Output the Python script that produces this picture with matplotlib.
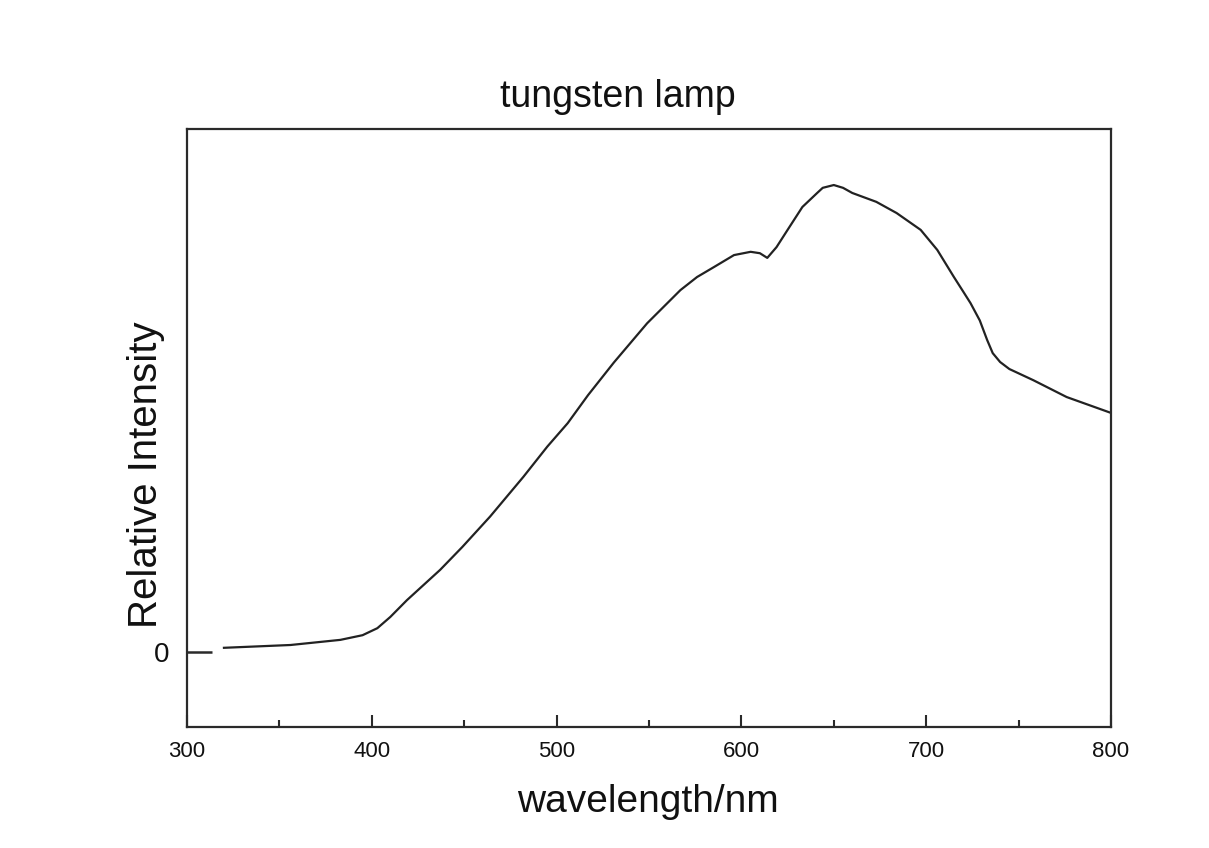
"""Tungsten lamp emission spectrum, relative intensity vs wavelength."""
import matplotlib
matplotlib.use("Agg")
import matplotlib.pyplot as plt

# values (intensity normalised to peak = 1)
wavelength = [320, 356, 383, 395, 403, 410, 419, 437, 449, 464, 482, 495,
              506, 517, 531, 549, 567, 576, 585, 596, 605, 610, 614, 619,
              625, 633, 641, 644, 650, 655, 660, 673, 684, 697, 706, 715,
              720, 724, 729, 733, 736, 740, 745, 758, 776, 800]
intensity = [0.009, 0.015, 0.026, 0.036, 0.051, 0.075, 0.111, 0.176, 0.225,
             0.290, 0.375, 0.440, 0.490, 0.550, 0.620, 0.704, 0.775, 0.803,
             0.824, 0.850, 0.857, 0.854, 0.844, 0.867, 0.904, 0.953, 0.983,
             0.994, 1.000, 0.994, 0.983, 0.964, 0.940, 0.904, 0.861, 0.803,
             0.772, 0.747, 0.710, 0.668, 0.640, 0.621, 0.606, 0.582, 0.546,
             0.512]
x_ticks = [300, 400, 500, 600, 700, 800]
x_minor = [350, 450, 550, 650, 750]
y_ticks = [0]

plt.rcParams["font.family"] = ["Liberation Sans", "DejaVu Sans"]
narrow = ["Liberation Sans Narrow", "Liberation Sans", "DejaVu Sans"]
ink = "#2a2a2a"

fig = plt.figure(figsize=(12.09, 8.48), dpi=100)
ax = fig.add_axes([187 / 1209, 1 - 727 / 848, (1111 - 187) / 1209, (727 - 129) / 848])

ax.plot(wavelength, intensity, color="#222222", lw=1.6)

ax.set_xlim(300, 800)
ax.set_ylim(-0.1606, 1.12)

ax.set_xticks(x_ticks)
ax.set_xticks(x_minor, minor=True)
ax.set_yticks(y_ticks)
ax.set_xticklabels([str(v) for v in x_ticks], family=narrow, fontsize=16)
ax.set_yticklabels([str(v) for v in y_ticks], fontsize=20)
ax.tick_params(axis="x", which="major", direction="in", length=9, width=1.5,
               color=ink, pad=10, labelcolor="#111111")
ax.tick_params(axis="x", which="minor", direction="in", length=5, width=1.5,
               color=ink)
ax.tick_params(axis="y", direction="in", length=18, width=1.8, color=ink,
               pad=13, labelcolor="#111111")
for s in ax.spines.values():
    s.set_linewidth(1.6)
    s.set_color(ink)

fig.text(500 / 1209, 1 - 107 / 848, "tungsten lamp", fontsize=27,
         ha="left", va="baseline", color="#111111")
fig.text(517 / 1209, 1 - 812 / 848, "wavelength/nm", fontsize=28,
         ha="left", va="baseline", color="#111111")
fig.text(165 / 1209, 1 - 475 / 848, "Relative Intensity", fontsize=29,
         rotation=90, ha="right", va="center", color="#111111")

fig.savefig("out.png", dpi=100)
